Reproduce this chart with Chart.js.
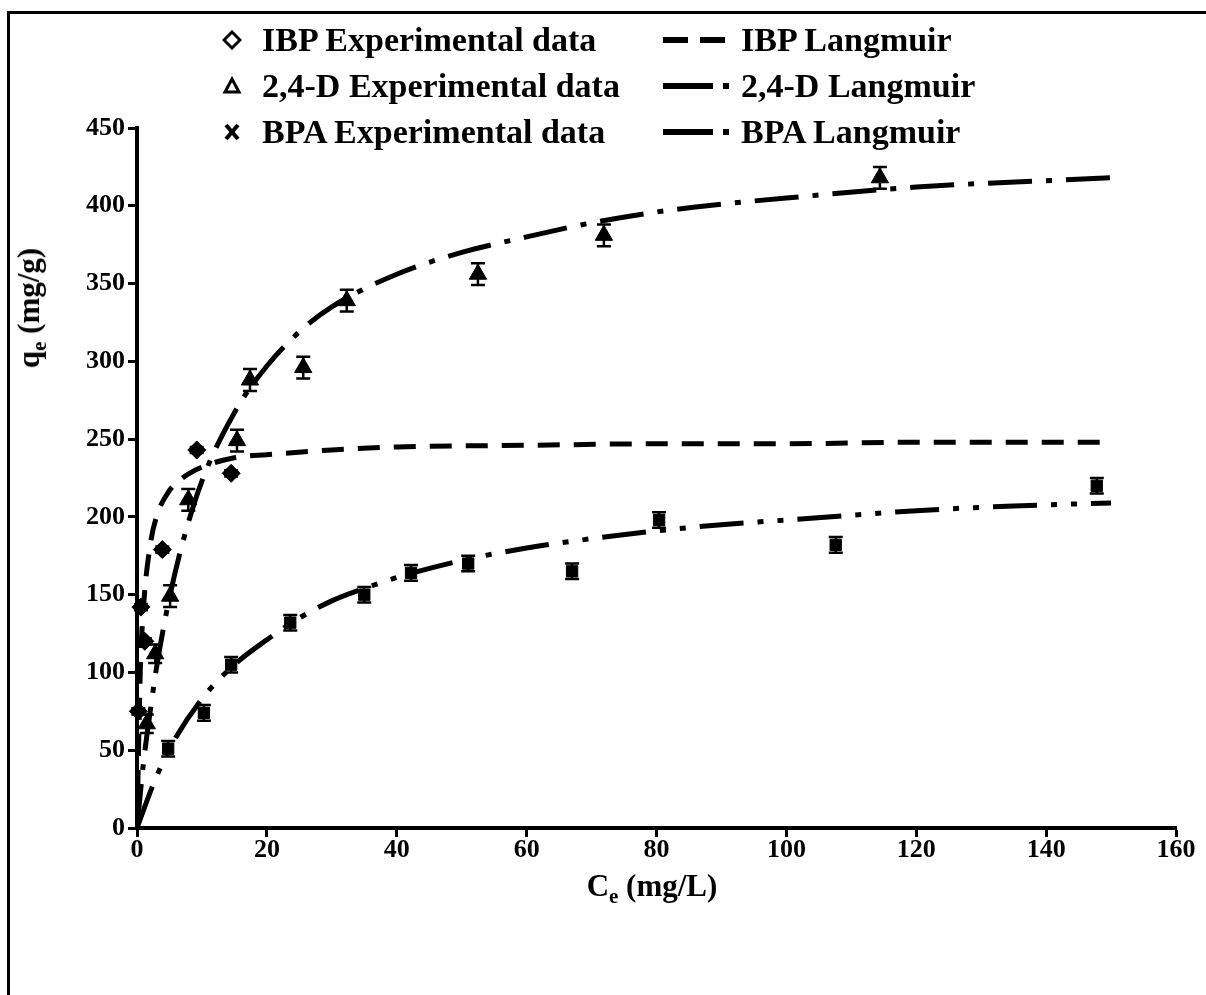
<!DOCTYPE html>
<html>
<head>
<meta charset="utf-8">
<script src="https://cdn.jsdelivr.net/npm/chart.js"></script>
<style>
    html, body { margin: 0; padding: 0; background: #fff; }
    #wrap { position: relative; width: 1206px; height: 995px; overflow: hidden; }
    #frame { position: absolute; left: 7px; top: 11px; width: 1220px; height: 1000px;
             border-left: 3px solid #000; border-top: 3px solid #000; }
    #myChart { position: absolute; left: 0; top: 0; }
    .lg { position: absolute; font: bold 34px "Liberation Serif", "Times New Roman", serif;
          line-height: 38px; white-space: nowrap; color: #000; }
    .glyph { position: absolute; }
    .ttl { position: absolute; font: bold 31px "Liberation Serif", "Times New Roman", serif;
           white-space: nowrap; color: #000; }
    .ttl sub { font-size: 21px; vertical-align: -7px; line-height: 0; }
</style>
</head>
<body>
<div id="wrap">
    <div id="frame"></div>
    <canvas id="myChart" width="1206" height="995"></canvas>

    <!-- legend, two columns -->
    <svg class="glyph" style="left:222px;top:30px" width="20" height="20">
        <polygon points="10,2 18,10 10,18 2,10" fill="#fff" stroke="#000" stroke-width="3"/></svg>
    <div class="lg" style="left:262px;top:21px">IBP Experimental data</div>
    <svg class="glyph" style="left:660px;top:30px" width="72" height="20">
        <line x1="3" y1="10" x2="28" y2="10" stroke="#000" stroke-width="6"/>
        <line x1="40" y1="10" x2="65" y2="10" stroke="#000" stroke-width="6"/></svg>
    <div class="lg" style="left:741px;top:21px">IBP Langmuir</div>

    <svg class="glyph" style="left:222px;top:76px" width="20" height="20">
        <polygon points="10,3 17,16 3,16" fill="#fff" stroke="#000" stroke-width="3"/></svg>
    <div class="lg" style="left:262px;top:67px">2,4-D Experimental data</div>
    <svg class="glyph" style="left:660px;top:76px" width="80" height="20">
        <line x1="3" y1="10" x2="53" y2="10" stroke="#000" stroke-width="6"/>
        <rect x="63" y="7" width="6" height="6" fill="#000"/></svg>
    <div class="lg" style="left:741px;top:67px">2,4-D Langmuir</div>

    <svg class="glyph" style="left:222px;top:122px" width="20" height="20">
        <line x1="4" y1="3" x2="16" y2="17" stroke="#000" stroke-width="4"/>
        <line x1="16" y1="3" x2="4" y2="17" stroke="#000" stroke-width="4"/></svg>
    <div class="lg" style="left:262px;top:113px">BPA Experimental data</div>
    <svg class="glyph" style="left:660px;top:122px" width="80" height="20">
        <line x1="3" y1="10" x2="53" y2="10" stroke="#000" stroke-width="6"/>
        <rect x="63" y="7" width="6" height="6" fill="#000"/></svg>
    <div class="lg" style="left:741px;top:113px">BPA Langmuir</div>

    <div class="ttl" style="left:29px;top:308px;transform:translate(-50%,-50%) rotate(-90deg)">q<sub>e</sub> (mg/g)</div>
    <div class="ttl" style="left:652px;top:886px;transform:translate(-50%,-50%)">C<sub>e</sub> (mg/L)</div>
</div>

<script>
// ---------------------------------------------
// adsorption isotherms, values
// ---------------------------------------------

const xTicks = [0, 20, 40, 60, 80, 100, 120, 140, 160];
const yTicks = [0, 50, 100, 150, 200, 250, 300, 350, 400, 450];

// experimental points
const ibpCe = [0.2, 0.6, 1.2, 3.9, 9.2, 14.5];
const ibpQe = [75, 142, 120, 179, 243, 228];
const ibpErr = [2, 2, 2, 2, 2, 2];

const dCe = [1.5, 2.8, 5.1, 7.9, 15.4, 17.4, 25.6, 32.3, 52.5, 71.9, 114.4];
const dQe = [67, 112, 149, 211, 249, 288, 296, 339, 356, 381, 418];
const dErr = [6, 6, 7, 7, 7, 7, 7, 7, 7, 7, 7];

const bpaCe = [4.8, 10.3, 14.5, 23.6, 35, 42.2, 51, 67, 80.4, 107.6, 147.8];
const bpaQe = [51, 74, 105, 132, 150, 164, 170, 165, 198, 182, 220];
const bpaErr = [5, 5, 5, 5, 5, 5, 5, 5, 5, 5, 5];

// Langmuir curves
const ibpFitCe = [0, 0.5, 1, 2, 3, 5, 7, 10, 15, 20, 30, 40, 60, 80, 100, 120, 150];
const ibpFitQe = [0, 100, 142, 181, 200, 217, 225, 232, 238, 240, 243, 245, 246, 247, 247, 248, 248];

const dFitCe = [0, 1, 2, 3, 5, 7, 10, 15, 20, 25, 30, 40, 50, 60, 70, 80, 90, 100, 120, 150];
const dFitQe = [0, 42, 74, 103, 148, 183, 223, 267, 297, 319, 335, 356, 370, 380, 389, 396, 401, 405, 412, 418];

const bpaFitCe = [0, 2.5, 5, 10, 15, 20, 25, 30, 35, 40, 50, 60, 70, 80, 90, 100, 110, 120, 135, 150];
const bpaFitQe = [0, 28, 51, 83, 105, 121, 135, 146, 154, 161, 172, 180, 186, 191, 195, 198, 201, 204, 207, 209];

const FONT = '"Liberation Serif", "Times New Roman", serif';

function toPoints(xs, ys) {
    return xs.map((x, i) => ({ x: x, y: ys[i] }));
}

function expSet(label, xs, ys, errs, style, radius) {
    return {
        type: "scatter",
        label: label,
        data: toPoints(xs, ys),
        errors: errs,
        pointStyle: style,
        pointRadius: radius,
        backgroundColor: "#000",
        borderColor: "#000",
        borderWidth: 1,
        clip: false,
        order: 0,
    };
}

function fitSet(label, xs, ys, dash) {
    return {
        type: "line",
        label: label,
        data: toPoints(xs, ys),
        borderColor: "#000",
        borderWidth: 5,
        borderDash: dash,
        borderCapStyle: "butt",
        pointRadius: 0,
        fill: false,
        cubicInterpolationMode: "monotone",
        order: 1,
    };
}

// vertical error bars with caps
const errorBars = {
    id: "errorBars",
    afterDatasetsDraw(chart) {
        const ctx = chart.ctx;
        const yScale = chart.scales.y;
        ctx.save();
        ctx.strokeStyle = "#000";
        ctx.lineWidth = 2.5;
        chart.data.datasets.forEach((ds, di) => {
            if (!ds.errors) return;
            const meta = chart.getDatasetMeta(di);
            meta.data.forEach((pt, i) => {
                const v = ds.data[i].y;
                const top = yScale.getPixelForValue(v + ds.errors[i]);
                const bot = yScale.getPixelForValue(v - ds.errors[i]);
                ctx.beginPath();
                ctx.moveTo(pt.x, top);
                ctx.lineTo(pt.x, bot);
                ctx.moveTo(pt.x - 7, top);
                ctx.lineTo(pt.x + 7, top);
                ctx.moveTo(pt.x - 7, bot);
                ctx.lineTo(pt.x + 7, bot);
                ctx.stroke();
            });
        });
        ctx.restore();
    },
};

const config = {
    type: "scatter",
    data: {
        datasets: [
            fitSet("IBP Langmuir", ibpFitCe, ibpFitQe, [22, 14]),
            fitSet("2,4-D Langmuir", dFitCe, dFitQe, [44, 14, 6, 14]),
            fitSet("BPA Langmuir", bpaFitCe, bpaFitQe, [44, 14, 6, 14, 6, 14]),
            expSet("IBP Experimental data", ibpCe, ibpQe, ibpErr, "rectRot", 9),
            expSet("2,4-D Experimental data", dCe, dQe, dErr, "triangle", 10),
            expSet("BPA Experimental data", bpaCe, bpaQe, bpaErr, "rect", 8),
        ],
    },
    options: {
        responsive: false,
        animation: false,
        layout: { padding: { left: 0, right: 30, top: 128, bottom: 107 } },
        plugins: {
            legend: { display: false },
            tooltip: { enabled: false },
        },
        scales: {
            x: {
                type: "linear",
                min: 0,
                max: 160,
                afterBuildTicks: (axis) => { axis.ticks = xTicks.map((v) => ({ value: v })); },
                afterFit: (axis) => { axis.height = 60; },
                border: { display: true, color: "#000", width: 4 },
                grid: { drawOnChartArea: false, drawTicks: true, tickLength: 9, tickWidth: 3, tickColor: "#000" },
                ticks: { color: "#000", padding: -2, font: { family: FONT, size: 26, weight: "bold" } },
            },
            y: {
                type: "linear",
                min: 0,
                max: 450,
                afterBuildTicks: (axis) => { axis.ticks = yTicks.map((v) => ({ value: v })); },
                afterFit: (axis) => { axis.width = 137; },
                border: { display: true, color: "#000", width: 4 },
                grid: { drawOnChartArea: false, drawTicks: true, tickLength: 9, tickWidth: 3, tickColor: "#000" },
                ticks: { color: "#000", padding: 3, font: { family: FONT, size: 26, weight: "bold" } },
            },
        },
    },
    plugins: [errorBars],
};

new Chart(document.getElementById("myChart"), config);
</script>
</body>
</html>
